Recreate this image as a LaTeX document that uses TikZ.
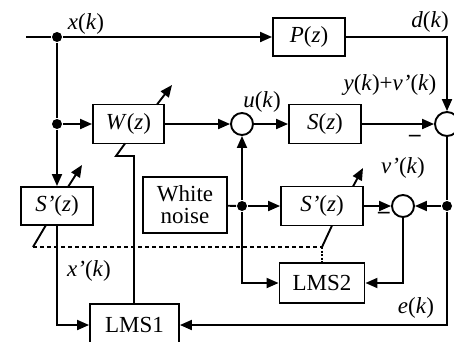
\documentclass[tikz,border=0pt]{standalone}
\usepackage{fontspec}
\setmainfont{Liberation Serif}
\usetikzlibrary{arrows.meta}
\begin{document}
\begin{tikzpicture}[x=1pt,y=-1pt,
  line width=1.9pt,
  every node/.style={font=\fontsize{23}{25}\selectfont},
  >={Triangle[length=12pt,width=10pt]},
  blk/.style={draw,rectangle,fill=white,inner sep=0pt},
  sumc/.style={draw,circle,minimum size=22pt,inner sep=0pt},
  dotn/.style={circle,fill,minimum size=10pt,inner sep=0pt},
  lbl/.style={inner sep=0pt}]
\useasboundingbox (0,0) rectangle (454,341);
% blocks
\node[blk,minimum width=72pt,minimum height=38pt] (P) at (309,37) {\textit{P}(\textit{z})};
\node[blk,minimum width=71pt,minimum height=39pt] (W) at (128.5,124) {\textit{W}(\textit{z})};
\node[blk,minimum width=72pt,minimum height=39pt] (S) at (325,124) {\textit{S}(\textit{z})};
\node[blk,minimum width=72pt,minimum height=38pt] (SL) at (57,206) {\textit{S’}(\textit{z})};
\node[blk,minimum width=84pt,minimum height=56pt,align=center] (WN) at (185,205) {White\\[-3pt]noise};
\node[blk,minimum width=82pt,minimum height=39pt] (SR) at (322,206) {\textit{S’}(\textit{z})};
\node[blk,minimum width=85pt,minimum height=40pt] (L2) at (322,283) {LMS2};
\node[blk,minimum width=89pt,minimum height=42pt] (L1) at (134.5,325) {LMS1};
% summing junctions
\node[sumc] (C1) at (242,124) {};
\node[sumc,minimum size=24pt] (CR) at (447,124) {};
\node[sumc] (CV) at (403,206) {};
% dots
\node[dotn] (D1) at (57,37) {};
\node[dotn] (D2) at (57,124) {};
\node[dotn] (D3) at (447,206) {};
\node[dotn] (D4) at (242,206) {};
% coordinates
\coordinate (in) at (26,37);
\coordinate (z1) at (134,156);
\coordinate (z2) at (116,156);
\coordinate (wb) at (125,143.5);
\coordinate (sl1) at (46,225);
\coordinate (dl) at (33,247);
\coordinate (dr) at (322,247);
\coordinate (sr1) at (332,225.5);
\coordinate (aw1) at (157,104.5);
\coordinate (aw2) at (172,85);
\coordinate (as1) at (68,187);
\coordinate (as2) at (82,165);
\coordinate (ar1) at (353,186.5);
\coordinate (ar2) at (363,168);
% connectors
\draw (in) -- (D1);
\draw[->] (D1) -- (P);
\draw[->] (P) -| (CR);
\draw (D1) -- (D2);
\draw[->] (D2) -- (SL);
\draw[->] (D2) -- (W);
\draw[->] (W) -- (C1);
\draw[->] (C1) -- (S);
\draw[->] (S) -- (CR);
\draw (CR) -- (D3);
\draw[->] (D3) |- (L1);
\draw[->] (D3) -- (CV);
\draw (WN) -- (D4);
\draw[->] (D4) -- (SR);
\draw[->] (D4) -- (C1);
\draw[->] (D4) |- (L2);
\draw[->] (SR) -- (CV);
\draw[->] (CV) |- (L2);
\draw[->] (SL) |- (L1);
\draw (L1.north -| z1) -- (z1) -- (z2) -- (wb);
\draw (sl1) -- (dl);
\draw[dash pattern=on 4pt off 3pt] (dl) -- (dr);
\draw[dash pattern=on 2pt off 1.5pt] (dr) -- (L2.north);
\draw (dr) -- (sr1);
% adaptive arrows
\draw[->] (aw1) -- (aw2);
\draw[->] (as1) -- (as2);
\draw[->] (ar1) -- (ar2);
% labels
\node[lbl] (lx) at (86,24) {\textit{x}(\textit{k})};
\node[lbl] (ld) at (430,22) {\textit{d}(\textit{k})};
\node[lbl] (ly) at (390,85) {\textit{y}(\textit{k})+\textit{v’}(\textit{k})};
\node[lbl] (lu) at (262,102) {\textit{u}(\textit{k})};
\node[lbl] (lv) at (403,168) {\textit{v’}(\textit{k})};
\node[lbl] (lxp) at (89,271) {\textit{x’}(\textit{k})};
\node[lbl] (le) at (416,308) {\textit{e}(\textit{k})};
\node[lbl] (m1) at (415,138) {\textbf{\textendash}};
\node[lbl] (m2) at (384,215) {\textbf{\textendash}};
\end{tikzpicture}
\end{document}
